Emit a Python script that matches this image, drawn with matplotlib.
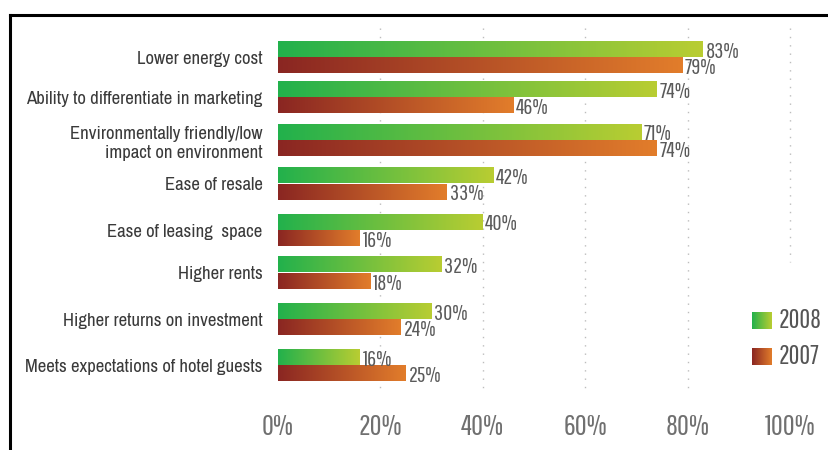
import numpy as np
import matplotlib
matplotlib.use("Agg")
import matplotlib.pyplot as plt
from matplotlib.colors import LinearSegmentedColormap
from matplotlib.lines import Line2D

categories = [
    "Lower energy cost",
    "Ability to differentiate in marketing",
    "Environmentally friendly/low\nimpact on environment",
    "Ease of resale",
    "Ease of leasing  space",
    "Higher rents",
    "Higher returns on investment",
    "Meets expectations of hotel guests",
]
values_2008 = [83, 74, 71, 42, 40, 32, 30, 16]
values_2007 = [79, 46, 74, 33, 16, 18, 24, 25]
series_labels = ["2008", "2007"]
xticks = [0, 20, 40, 60, 80, 100]

LABEL_FONT = ["Archivo Narrow", "DejaVu Sans"]
NUM_FONT = ["Pathway Gothic One", "DejaVu Sans"]
plt.rcParams["font.family"] = LABEL_FONT

W, H = 829, 450
fig = plt.figure(figsize=(W / 100, H / 100), dpi=100)
fig.patch.set_facecolor("white")

# plot area in pixels: x 0..100% spans 278..790 px; y axis units are pixels
top_px, bot_px = 20, 400
ax = fig.add_axes([278 / W, 1 - bot_px / H, 512 / W, (bot_px - top_px) / H])

# vertical centre of each category group (pixels from the top)
row_centres = [57.5, 97.5, 140.5, 184, 230.5, 273, 319.5, 365.5]
bar_h = 16

green = LinearSegmentedColormap.from_list("green", ["#22b14c", "#b9cd32"])
rust = LinearSegmentedColormap.from_list("rust", ["#8a2622", "#e27d2b"])
grad = np.linspace(0, 1, 256).reshape(1, -1)


def gradient_bar(axis, x0, x1, y0, y1, cmap):
    axis.imshow(grad, cmap=cmap, extent=(x0, x1, y1, y0), aspect="auto",
                interpolation="bilinear", zorder=2)


# dotted vertical gridlines
for t in xticks[1:]:
    y_end = 262 if t == 100 else 390
    ax.plot([t, t], [28, y_end], color="#bdbdbd", lw=1.0,
            ls=(0, (1, 5)), zorder=1, clip_on=False)

for yc, v8, v7 in zip(row_centres, values_2008, values_2007):
    gradient_bar(ax, 0, v8, yc - bar_h, yc - 0.5, green)
    gradient_bar(ax, 0, v7, yc, yc + bar_h, rust)
    ax.text(v8 + 0.5, yc - bar_h / 2 + 2, f"{v8}%", ha="left", va="center",
            fontsize=16, color="#5a5a5a", family=NUM_FONT, zorder=4)
    ax.text(v7 + 0.5, yc + bar_h / 2 + 2.5, f"{v7}%", ha="left", va="center",
            fontsize=16, color="#5a5a5a", family=NUM_FONT, zorder=4)

ax.set_xlim(0, 100)
ax.set_ylim(bot_px, top_px)
ax.set_xticks(xticks, [f"{t}%" for t in xticks], family=NUM_FONT)
ax.set_yticks(row_centres, categories)
ax.tick_params(axis="x", length=0, pad=10, labelsize=21, labelcolor="#707070")
ax.tick_params(axis="y", length=0, pad=11, labelsize=13.5, labelcolor="#3a3a3a")
for s in ax.spines.values():
    s.set_visible(False)

# legend swatches with the same gradients
for k, (lab, cmap) in enumerate(zip(series_labels, [green, rust])):
    y0 = 312 + 36 * k
    sw = fig.add_axes([752 / W, 1 - (y0 + 17) / H, 20 / W, 17 / H])
    gradient_bar(sw, 0, 1, 0, 1, cmap)
    sw.set_xlim(0, 1)
    sw.set_ylim(1, 0)
    sw.axis("off")
    fig.text(779 / W, 1 - (y0 + 9) / H, lab, ha="left", va="center",
             fontsize=19, color="#555555", family=NUM_FONT)

# frame lines along the left and top
fig.add_artist(Line2D([10 / W, 10 / W], [1 - 15 / H, 0], color="black", lw=2.2))
fig.add_artist(Line2D([10 / W, 828 / W], [1 - 15 / H, 1 - 15 / H],
                      color="black", lw=2.2))

fig.savefig("out.png", dpi=100, facecolor="white")
